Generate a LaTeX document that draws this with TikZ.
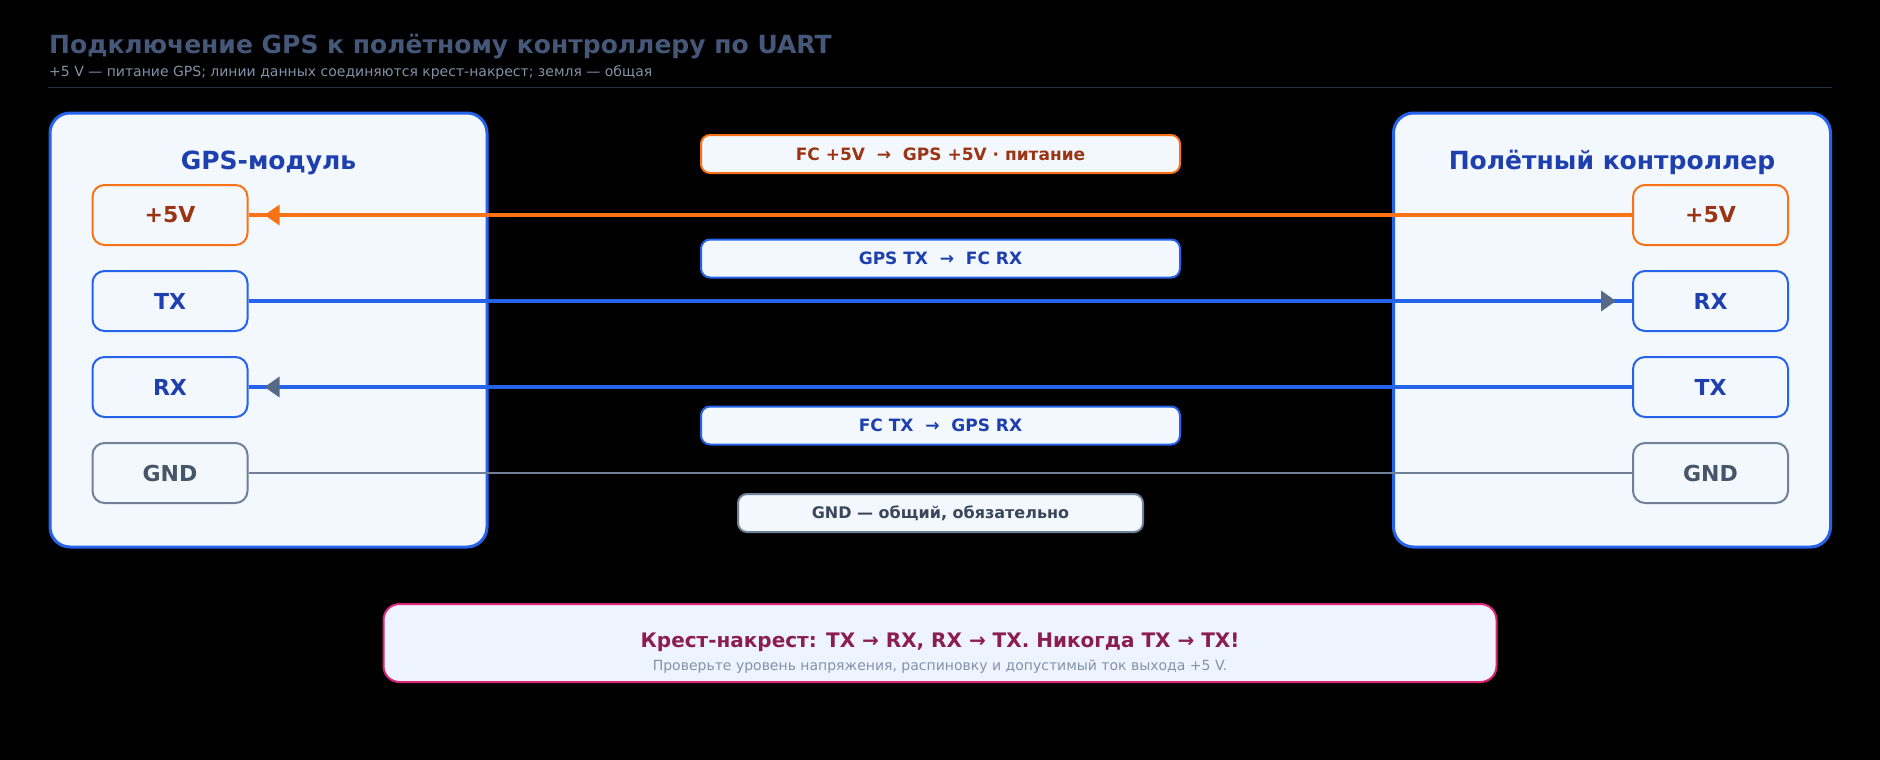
\documentclass[tikz,border=0pt]{standalone}
\usepackage{fontspec}
\setmainfont{DejaVu Sans}
\usepackage{tikz}
\usetikzlibrary{arrows.meta}
\definecolor{headgray}{HTML}{46587A}
\definecolor{subgray}{HTML}{8391A8}
\definecolor{rulegray}{HTML}{243247}
\definecolor{unitblue}{HTML}{2563EB}
\definecolor{unitfill}{HTML}{F3F7FE}
\definecolor{darkblue}{HTML}{1E40AF}
\definecolor{pwrorange}{HTML}{F97316}
\definecolor{pwrbrown}{HTML}{9A3412}
\definecolor{gndgray}{HTML}{708096}
\definecolor{gndtext}{HTML}{475569}
\definecolor{tagtext}{HTML}{3B4759}
\definecolor{tipslate}{HTML}{566A88}
\definecolor{notepink}{HTML}{DB2777}
\definecolor{notefill}{HTML}{EEF4FF}
\definecolor{notetext}{HTML}{8C1D4F}

\begin{document}
\begin{tikzpicture}[x=1pt,y=-1pt]
  \tikzstyle{every node}=[inner sep=0pt]
  \tikzstyle{unit}=[draw=unitblue, fill=unitfill, line width=3pt, rounded corners=20pt, minimum width=437pt, minimum height=434pt]
  \tikzstyle{unittitle}=[anchor=base, text=darkblue, font=\fontsize{25}{30}\selectfont\bfseries]
  \tikzstyle{pinbox}=[fill=unitfill, line width=2pt, rounded corners=12pt, minimum width=155pt, minimum height=60pt, font=\fontsize{22}{26}\selectfont\bfseries]
  \tikzstyle{pwr}=[draw=pwrorange, text=pwrbrown]
  \tikzstyle{sig}=[draw=unitblue, text=darkblue]
  \tikzstyle{gnd}=[draw=gndgray, text=gndtext]
  \tikzstyle{tag}=[fill=unitfill, line width=2pt, rounded corners=9pt, minimum height=38pt, font=\fontsize{17}{20}\selectfont\bfseries]
  \tikzstyle{pwrwire}=[pwrorange, line width=3.5pt]
  \tikzstyle{sigwire}=[unitblue, line width=3.5pt]
  \tikzstyle{gndwire}=[gndgray, line width=2.5pt]
  \tikzstyle{tipend}=[shorten >=16pt, -{Triangle[length=15pt,width=20pt]}]
  \fill[black] (0,0) rectangle (1880,760);
  \useasboundingbox (0,0) rectangle (1880,760);
  \node[anchor=base west, text=headgray, font=\fontsize{25}{30}\selectfont\bfseries] (title) at (49,53.5) {Подключение GPS к полётному контроллеру по UART};
  \node[anchor=base west, text=subgray, font=\fontsize{14}{17}\selectfont] (subtitle) at (49,77) {+5 V — питание GPS; линии данных соединяются крест-накрест; земля — общая};
  \draw[rulegray, line width=1pt] (48,88) -- (1832,88);
  \node[unit] (gps) at (268.5,330) {};
  \node[unit] (fc) at (1612,330) {};
  \node[unittitle] (gpstitle) at (268.5,169) {GPS-модуль};
  \node[unittitle] (fctitle) at (1612,169) {Полётный контроллер};
  \node[pinbox, pwr] (gps5v) at (170,215) {+5V};
  \node[pinbox, sig] (gpstx) at (170,301) {TX};
  \node[pinbox, sig] (gpsrx) at (170,387) {RX};
  \node[pinbox, gnd] (gpsgnd) at (170,473) {GND};
  \node[pinbox, pwr] (fc5v) at (1710.5,215) {+5V};
  \node[pinbox, sig] (fcrx) at (1710.5,301) {RX};
  \node[pinbox, sig] (fctx) at (1710.5,387) {TX};
  \node[pinbox, gnd] (fcgnd) at (1710.5,473) {GND};
  \draw[pwrwire] (fc5v.west) -- (gps5v.east);
  \draw[pwrwire, tipend] (fc5v.west) -- (gps5v.east);
  \draw[sigwire] (gpstx.east) -- (fcrx.west);
  \draw[sigwire, tipend, -{Triangle[length=15pt,width=20pt,color=tipslate]}] (gpstx.east) -- (fcrx.west);
  \draw[sigwire] (fctx.west) -- (gpsrx.east);
  \draw[sigwire, tipend, -{Triangle[length=15pt,width=20pt,color=tipslate]}] (fctx.west) -- (gpsrx.east);
  \draw[gndwire] (gpsgnd.east) -- (fcgnd.west);
  \node[tag, pwr, minimum width=479pt] (tag5v) at (940.5,154) {FC +5V\ \ →\ \ GPS +5V · питание};
  \node[tag, sig, minimum width=479pt] (tagtx) at (940.5,258.5) {GPS TX\ \ →\ \ FC RX};
  \node[tag, sig, minimum width=479pt] (tagrx) at (940.5,425.5) {FC TX\ \ →\ \ GPS RX};
  \node[tag, draw=gndgray, text=tagtext, minimum width=405pt, font=\fontsize{16}{19}\selectfont\bfseries] (taggnd) at (940.5,513) {GND — общий, обязательно};
  \node[draw=notepink, fill=notefill, line width=2pt, rounded corners=16pt, minimum width=1113pt, minimum height=78pt] (note) at (940,643) {};
  \node[anchor=base, text=notetext, font=\fontsize{20}{24}\selectfont\bfseries] (notemain) at (940,647.3) {Крест-накрест: TX → RX, RX → TX. Никогда TX → TX!};
  \node[anchor=base, text=subgray, font=\fontsize{14}{17}\selectfont] (notesub) at (940,670) {Проверьте уровень напряжения, распиновку и допустимый ток выхода +5 V.};
\end{tikzpicture}
\end{document}
